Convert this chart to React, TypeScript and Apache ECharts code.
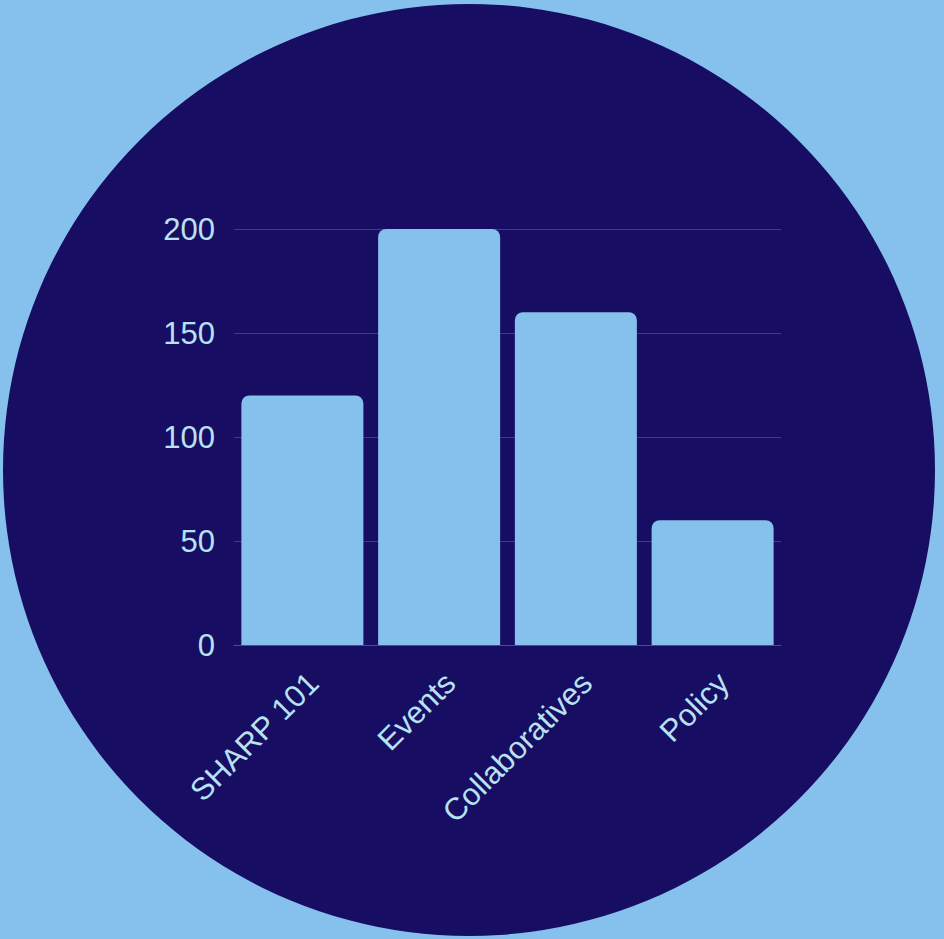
import React, { useEffect, useRef } from "react";
import * as echarts from "echarts";

const categories = ["SHARP 101", "Events", "Collaboratives", "Policy"];
const values = [120, 200, 160, 60];
const yTicks = [0, 50, 100, 150, 200];

export default function App() {
  const ref = useRef<HTMLDivElement>(null);
  useEffect(() => {
    if (!ref.current) return;
    const chart = echarts.init(ref.current, undefined, { renderer: "svg" });
    const textColor = "#B8E2F2";
    chart.setOption({
      animation: false,
      backgroundColor: "#85C1EC",
      graphic: [
        {
          type: "circle",
          z: -10,
          silent: true,
          shape: { cx: 469, cy: 470, r: 466 },
          style: { fill: "#170E63" },
        },
      ],
      grid: { left: 234, right: 163, top: 229, bottom: 939 - 645 },
      xAxis: {
        type: "category",
        data: categories,
        axisLine: { show: true, lineStyle: { color: "#4B4A9C", width: 1 } },
        axisTick: { show: false },
        axisLabel: {
          rotate: 45,
          color: textColor,
          fontSize: 31,
          fontFamily: "Liberation Sans, Arial, sans-serif",
          margin: 22,
          verticalAlign: "top",
          interval: 0,
        },
      },
      yAxis: {
        type: "value",
        min: yTicks[0],
        max: yTicks[yTicks.length - 1],
        interval: 50,
        axisLine: { show: false },
        axisTick: { show: false },
        axisLabel: {
          color: textColor,
          fontSize: 31,
          fontFamily: "Liberation Sans, Arial, sans-serif",
          margin: 19,
        },
        splitLine: { show: true, lineStyle: { color: "#3F3A8C", width: 1 } },
      },
      series: [
        {
          type: "bar",
          data: values,
          barWidth: 122,
          itemStyle: { color: "#85C1EC", borderRadius: [8, 8, 0, 0] },
        },
      ],
    });
    return () => chart.dispose();
  }, []);
  return (
    <div
      ref={ref}
      style={{ position: "absolute", left: 0, top: 0, width: 944, height: 939 }}
    />
  );
}
